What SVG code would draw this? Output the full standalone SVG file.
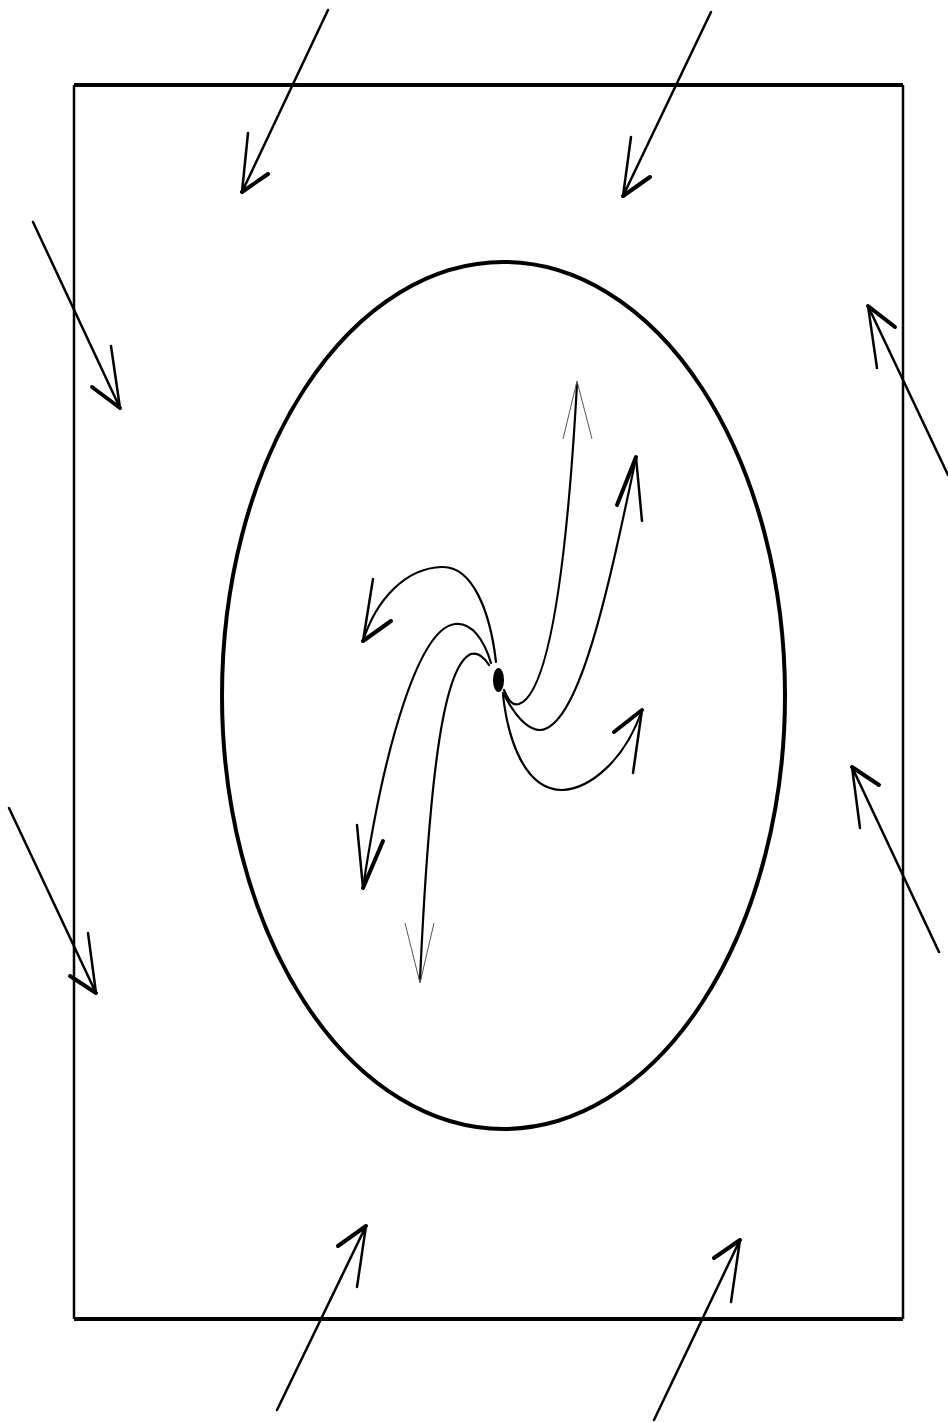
<svg xmlns="http://www.w3.org/2000/svg" width="948" height="1423" viewBox="0 0 948 1423">
<style>
.ln{fill:none;stroke:#000;stroke-width:2.5;stroke-linecap:round}
.th{fill:none;stroke:#000;stroke-width:4;stroke-linecap:round}
.cv{fill:none;stroke:#000;stroke-width:2.2;stroke-linecap:round}
.tn{fill:none;stroke:#555;stroke-width:1}
</style>
<rect width="948" height="1423" fill="#fff"/>
<g id="frame">
<line x1="74" y1="85" x2="903" y2="85" stroke="#000" stroke-width="4"/>
<line x1="74" y1="1319" x2="903" y2="1319" stroke="#000" stroke-width="4"/>
<line x1="74" y1="85" x2="74" y2="1319" stroke="#000" stroke-width="2.5"/>
<line x1="903" y1="85" x2="903" y2="1319" stroke="#000" stroke-width="2.5"/>
</g>
<g id="disc">
<ellipse cx="503.5" cy="695.5" rx="281.5" ry="433.5" fill="none" stroke="#000" stroke-width="4"/>
</g>
<g id="centre">
<ellipse cx="498.5" cy="680" rx="5.5" ry="12" fill="#000"/>
</g>
<g id="connectors">
<g id="in1"><path class="ln" d="M328,10 L242,192 M248,133 L242,192"/><path class="th" d="M268,174 L242,192"/></g>
<g id="in2"><path class="ln" d="M711,12 L623,196 M631,137 L623,196"/><path class="th" d="M650,177 L623,196"/></g>
<g id="in3"><path class="ln" d="M33,222 L120,408 M111,346 L120,408"/><path class="th" d="M92,387 L120,408"/></g>
<g id="in4"><path class="ln" d="M9,808 L96,993 M88,933 L96,993"/><path class="th" d="M70,976 L96,993"/></g>
<g id="in5"><path class="ln" d="M948,475 L868,306 M877,368 L868,306"/><path class="th" d="M895,327 L868,306"/></g>
<g id="in6"><path class="ln" d="M939,952 L852,767 M860,828 L852,767"/><path class="th" d="M879,785 L852,767"/></g>
<g id="in7"><path class="ln" d="M277,1410 L366,1226 M357,1287 L366,1226"/><path class="th" d="M338,1246 L366,1226"/></g>
<g id="in8"><path class="ln" d="M654,1420 L740,1240 M731,1302 L740,1240"/><path class="th" d="M714,1258 L740,1240"/></g>
<g id="outa"><path class="cv" d="M496,662 C490,610 472,566 442,567 C405,568 376,600 363,641"/><path class="ln" d="M373,579 L363,641"/><path class="th" d="M391,621 L363,641"/></g>
<g id="outb"><path class="cv" d="M491,663 C484,640 472,622 455,624 C420,628 385,740 363,888"/><path class="ln" d="M357,825 L363,888"/><path class="th" d="M383,841 L363,888"/></g>
<g id="outc"><path class="cv" d="M489,665 C484,657 478,652 471,654 C445,665 430,760 420,980"/><path class="tn" d="M405,923 L420,983 L434,923"/></g>
<g id="outd"><path class="cv" d="M504,690 C508,700 512,706 519,704 C545,695 565,600 577,384"/><path class="tn" d="M563,439 L577,381 L592,439"/></g>
<g id="oute"><path class="cv" d="M503,693 C512,710 525,730 540,730 C580,728 610,580 636,458"/><path class="ln" d="M642,521 L636,457"/><path class="th" d="M617,505 L636,457"/></g>
<g id="outf"><path class="cv" d="M503,695 C508,740 525,790 562,790 C590,789 625,760 642,710"/><path class="ln" d="M633,773 L642,710"/><path class="th" d="M614,732 L642,710"/></g>
</g>
</svg>
